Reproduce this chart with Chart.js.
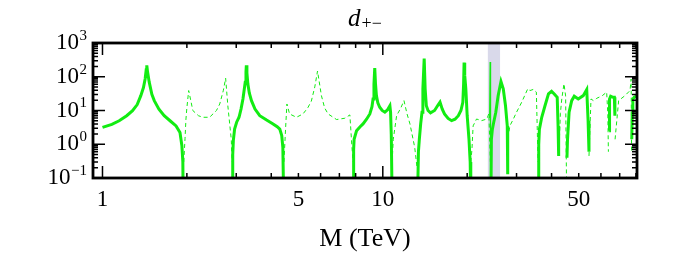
<!DOCTYPE html>
<html>
<head>
<meta charset="utf-8">
<script src="https://cdn.jsdelivr.net/npm/chart.js"></script>
<style>
  html, body { margin: 0; padding: 0; background: #fff; }
  #chart { display: block; }
</style>
</head>
<body>
<canvas id="chart" width="681" height="254"></canvas>
<script>
// thick curve, null breaks the line between branches
const solidX = [
    1.0, 1.08, 1.147, 1.22, 1.28, 1.33, 1.37, 1.40, 1.42, 1.432, 1.439, 1.448, 1.468, 1.50, 1.53, 1.59, 1.66, 1.75, 1.83, 1.89, 1.92, 1.935, 1.94, 1.95,
    2.90, 2.915, 2.93, 2.96, 3.01, 3.07, 3.12, 3.17, 3.23, 3.25, 3.26, 3.275, 3.30, 3.34, 3.40, 3.50, 3.64, 3.85, 4.06, 4.20, 4.29, 4.36, 4.40, 4.43, 4.44,
    7.83, 7.87, 7.90, 8.06, 8.3, 8.5, 8.75, 8.99, 9.15, 9.23, 9.30, 9.36, 9.42, 9.49, 9.6, 9.75, 9.95, 10.17, 10.4, 10.6, 10.66, 10.72, 10.8, 10.81,
    13.3, 13.4, 13.5, 13.65, 13.8, 13.9, 14.05, 14.16, 14.3, 14.5, 14.8, 15.3, 15.7, 16.0, 16.3, 16.6, 17.1, 17.6, 18.1, 18.6, 19.0, 19.3, 19.42, 19.5, 19.6, 19.78, 20.0, 20.3, 20.5, 20.6, 20.61,
    24.3, 24.4, 24.6, 24.8, 25.3, 25.8, 26.1, 26.4, 26.9, 27.4, 27.8, 27.9, 27.91,
    35.9, 36.0, 36.2, 36.9, 37.9, 39.0, 40.0, 40.9, 41.9, 42.2, 42.4, 42.41,
    45.4, 45.6, 46.2, 47.2, 48.2, 49.8, 51.9, 53.4, 54.0, 54.4, 54.41,
    64.2, 64.4, 65.0, 66.3, 67.0, 67.3, 67.31,
    77.3, 77.6, 78.0, 79.0, 81.0
];
const solidY = [
    3.15, 3.9, 4.97, 7.0, 9.9, 15, 27.6, 48, 87, 160, 218, 140, 69, 30, 19.6, 11, 7.0, 4.8, 3.5, 2.24, 0.9, 0.3, 0.02, null,
    0.02, 0.5, 1.3, 2.8, 4.5, 6.3, 11, 22, 69, 140, 218, 130, 62, 33, 19.6, 11, 7.0, 5.2, 4.0, 3.3, 2.8, 1.8, 0.8, 0.02, null,
    0.02, 0.7, 1.4, 2.5, 3.3, 4.0, 5.5, 7.9, 13, 22, 60, 182, 60, 27.6, 17, 12.5, 10, 8.9, 10.5, 13.8, 8.9, 2, 0.02, null,
    0.02, 0.6, 1.4, 4, 8.9, 44, 344, 44, 13.8, 10, 8.5, 10, 14, 17.6, 11, 7.9, 5.8, 5.0, 5.5, 7.0, 10, 17.6, 60, 262, 110, 44, 7, 1.4, 0.3, 0.02, null,
    0.02, 1.4, 2.8, 4, 8.9, 27.6, 45, 72, 44, 13.8, 3.5, 0.13, null,
    0.02, 1, 2.8, 6.3, 13.8, 31, 37, 31, 24.6, 3.5, 0.45, null,
    0.4, 1.4, 8.9, 19.6, 26.5, 22, 27.6, 42, 5, 0.6, null,
    2.5, 22, 26.5, 24.6, 24.6, 7, null,
    1.4, 8, 22, 25, 27
];

// thin dashed curve
const dashedX = [
    1.95, 1.97, 1.985, 2.0, 2.03, 2.07, 2.10, 2.2, 2.28, 2.41, 2.55, 2.62, 2.70, 2.75, 2.80, 2.88, 2.90, 2.91,
    4.44, 4.50, 4.55, 4.65, 4.92, 5.19, 5.4, 5.56, 5.72, 5.85, 6.04, 6.2, 6.38, 6.84, 7.32, 7.63, 7.75, 7.83, 7.84,
    10.8, 10.9, 11.2, 11.6, 11.9, 12.2, 12.5, 13.0, 13.25, 13.26,
    20.6, 20.8, 21.0, 21.6, 22.5, 23.5, 23.9, 24.2, 24.21,
    27.95, 28.4, 29.2, 30.0, 31.3, 32.9, 33.5, 34.4, 35.3, 35.6, 35.8, 35.81,
    42.5, 43.0, 43.5, 44.3, 44.9, 45.3, 45.31,
    54.4, 55.3, 56.4, 58.0, 60.7, 62.9, 63.5, 63.8, 63.81,
    67.4, 69.4, 73.1, 76.2, 76.9, 77.2
];
const dashedY = [
    0.3, 1.5, 5.6, 12, 39, 18, 10, 7, 6.3, 6.3, 10, 15.6, 40, 91, 13.8, 1.4, 0.3, null,
    0.3, 3, 15.6, 7.9, 6.3, 7.9, 12, 19, 50, 148, 27.6, 12, 7.9, 5.4, 5.9, 7.4, 1, 0.3, null,
    0.3, 1.4, 7, 12, 19.6, 8, 4, 0.8, 0.2, null,
    0.3, 0.7, 3.5, 5.6, 5, 5.6, 8, 0.3, null,
    1.5, 3.5, 5.5, 8.9, 17.6, 44, 39, 42, 35, 2, 0.3, null,
    0.6, 8, 22, 62, 27, 0.02, null,
    0.45, 22, 19.6, 23, 27.6, 35, 8, 0.6, null,
    1.4, 19.6, 27.6, 39, 85, 0.6
];

// narrow spike inside the shaded band
const spikeX = [24.05, 24.15, 24.2, 24.28];
const spikeY = [6, 275, 4, 0.3];

const bandRange = [23.7, 26.2];

const xMajorTicks = [1, 10];
const xMinorTicks = [2, 3, 4, 5, 6, 7, 8, 9, 20, 30, 40, 50, 60, 70, 80];
const xLabels = [1, 5, 10, 50];
const yMajorTicks = [0.1, 1, 10, 100, 1000];
const yExponents = ['\u22121', '0', '1', '2', '3'];
const yMinorTicks = [];
[0.1, 1, 10, 100].forEach(d => { for (let k = 2; k <= 9; k++) yMinorTicks.push(d * k); });

const toPoints = (xs, ys) => xs.map((x, i) => ({ x: x, y: ys[i] }));

const green = '#12ec12';
const serif = '"Liberation Serif", "Times New Roman", serif';

const decorations = {
    id: 'decorations',
    beforeDatasetsDraw(chart) {
        const { ctx, chartArea: a, scales: { x } } = chart;
        const x0 = x.getPixelForValue(bandRange[0]);
        const x1 = x.getPixelForValue(bandRange[1]);
        ctx.save();
        ctx.fillStyle = '#d9d9ea';
        ctx.fillRect(x0, a.top, x1 - x0, a.bottom - a.top);
        ctx.restore();
    },
    afterDatasetsDraw(chart) {
        const { ctx, chartArea: a, scales: { x, y } } = chart;
        ctx.save();
        ctx.strokeStyle = '#000';
        ctx.fillStyle = '#000';

        // ticks pointing inward on all four sides
        ctx.lineWidth = 1.5;
        ctx.beginPath();
        const xTick = (v, len) => {
            const px = x.getPixelForValue(v);
            ctx.moveTo(px, a.bottom); ctx.lineTo(px, a.bottom - len);
            ctx.moveTo(px, a.top); ctx.lineTo(px, a.top + len);
        };
        const yTick = (v, len) => {
            const py = y.getPixelForValue(v);
            ctx.moveTo(a.left, py); ctx.lineTo(a.left + len, py);
            ctx.moveTo(a.right, py); ctx.lineTo(a.right - len, py);
        };
        xMajorTicks.forEach(v => xTick(v, 12));
        xMinorTicks.forEach(v => xTick(v, 5));
        yMajorTicks.forEach(v => yTick(v, 12));
        yMinorTicks.forEach(v => yTick(v, 5));
        ctx.stroke();

        ctx.lineWidth = 2.8;
        ctx.strokeRect(a.left, a.top, a.right - a.left, a.bottom - a.top);

        // x tick labels
        ctx.font = '23px ' + serif;
        ctx.textAlign = 'center';
        ctx.textBaseline = 'middle';
        xLabels.forEach(v => ctx.fillText(String(v), x.getPixelForValue(v), a.bottom + 22));

        // y tick labels, 10 with a raised exponent
        yMajorTicks.forEach((v, i) => {
            const py = y.getPixelForValue(v);
            ctx.font = '15px ' + serif;
            const ew = ctx.measureText(yExponents[i]).width;
            const ex = a.left - 6 - ew;
            ctx.textAlign = 'left';
            ctx.fillText(yExponents[i], ex, py - 7);
            ctx.font = '23px ' + serif;
            ctx.textAlign = 'right';
            ctx.fillText('10', ex - 0.5, py);
        });

        // axis title
        ctx.font = '26px ' + serif;
        ctx.textAlign = 'center';
        ctx.fillText('M (TeV)', (a.left + a.right) / 2, a.bottom + 61);

        // plot title d_{+-}
        const cx = (a.left + a.right) / 2;
        ctx.font = 'italic 25px ' + serif;
        const wd = ctx.measureText('d').width;
        ctx.font = '18px ' + serif;
        const ws = ctx.measureText('+\u2212').width;
        const sx = cx - (wd + ws + 1) / 2;
        ctx.textAlign = 'left';
        ctx.textBaseline = 'alphabetic';
        ctx.font = 'italic 25px ' + serif;
        ctx.fillText('d', sx, 26);
        ctx.font = '18px ' + serif;
        ctx.fillText('+\u2212', sx + wd + 1, 29);
        ctx.restore();
    }
};

new Chart(document.getElementById('chart'), {
    type: 'line',
    data: {
        datasets: [
            {
                label: 'solid',
                data: toPoints(solidX, solidY),
                borderColor: green,
                borderWidth: 3,
                pointRadius: 0,
                tension: 0,
                spanGaps: false
            },
            {
                label: 'dashed',
                data: toPoints(dashedX, dashedY),
                borderColor: green,
                borderWidth: 1,
                borderDash: [4, 3],
                pointRadius: 0,
                tension: 0,
                spanGaps: false
            },
            {
                label: 'spike',
                data: toPoints(spikeX, spikeY),
                borderColor: green,
                borderWidth: 1.2,
                pointRadius: 0,
                tension: 0
            }
        ]
    },
    options: {
        responsive: false,
        animation: false,
        devicePixelRatio: 1,
        layout: {
            padding: { left: 93, right: 44, top: 43, bottom: 76 }
        },
        scales: {
            x: { type: 'logarithmic', min: 0.925, max: 80.7, display: false },
            y: { type: 'logarithmic', min: 0.1, max: 1000, display: false }
        },
        plugins: {
            legend: { display: false },
            tooltip: { enabled: false }
        }
    },
    plugins: [decorations]
});
</script>
</body>
</html>
